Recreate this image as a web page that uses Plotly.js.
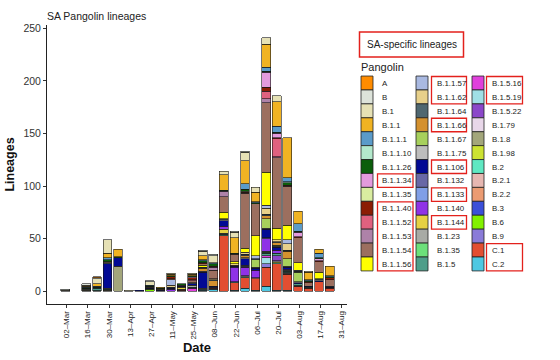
<!DOCTYPE html>
<html>
<head>
<meta charset="utf-8">
<script src="https://cdn.plot.ly/plotly-3.0.1.min.js"></script>
<style>
  html, body { margin: 0; padding: 0; background: #ffffff; }
  #chart { width: 560px; height: 360px; }
</style>
</head>
<body>
<div id="chart"></div>
<script>
// ---------------- DATA ----------------
// Week (bar) dates
const weeks = ['2020-03-01','2020-03-15','2020-03-22','2020-03-29','2020-04-05','2020-04-12',
  '2020-04-19','2020-04-26','2020-05-03','2020-05-10','2020-05-17','2020-05-24','2020-05-31',
  '2020-06-07','2020-06-14','2020-06-21','2020-06-28','2020-07-05','2020-07-12','2020-07-19',
  '2020-07-26','2020-08-02','2020-08-09','2020-08-16','2020-08-23'];

// Pangolin lineages, legend order
const lineages = ['A','B','B.1','B.1.1','B.1.1.1','B.1.1.10','B.1.1.26','B.1.1.34','B.1.1.35',
  'B.1.1.40','B.1.1.52','B.1.1.53','B.1.1.54','B.1.1.56','B.1.1.57','B.1.1.62','B.1.1.64',
  'B.1.1.66','B.1.1.67','B.1.1.75','B.1.106','B.1.132','B.1.133','B.1.140','B.1.144','B.1.23',
  'B.1.35','B.1.5','B.1.5.16','B.1.5.19','B.1.5.22','B.1.79','B.1.8','B.1.98','B.2','B.2.1',
  'B.2.2','B.3','B.6','B.9','C.1','C.2'];

const colors = ['#FF8C00','#DDE3DA','#E6E1B5','#F0B323','#5B9BC9','#B3E9CC','#0B5E0B','#E39BDD',
  '#D9EDA0','#8B1D04','#DF617F','#AE82A8','#9C6F5F','#FFFF00','#A9B9E1','#E7D08A','#4F6770',
  '#D4912F','#A7D05C','#BDBDBD','#020A94','#6868A6','#809FE7','#8F32E6','#E6D143','#A8AAA5',
  '#6CE07A','#4F9E8A','#E040DC','#A0DFE6','#8B47C9','#E8D7E9','#A3A67B','#CCE233','#5FE8C2',
  '#E6B7B1','#EB9B72','#3B4FD9','#82F000','#8A7BD8','#E24E31','#4FC8E2'];

// Weekly counts per lineage (one row per lineage, same order as `lineages`)
const counts = [
  [0,0,1,0,0,0,0,0,0,0,0,0,0,0,0,0,0,0,0,0,0,0,0,0,0],        // A
  [1,1,1,0,0,0,0,1,0,0,0,0,1,1,0,1,1,0,0,0,0,0,0,0,0],        // B
  [1,1,5,13,0,1,0,3,0,1,0,1,4,7,3,5,8,5,6,6,0,0,1,0,0],       // B.1
  [0,1,2,4,7,0,0,0,1,1,0,1,4,0,15,15,22,9,22,23,38,12,7,4,9], // B.1.1
  [0,1,1,2,0,0,0,1,0,0,0,0,1,1,0,0,5,1,4,6,4,7,1,4,1],        // B.1.1.1
  [0,0,0,0,0,0,0,0,0,0,0,0,0,0,0,0,0,0,0,0,1,0,0,0,0],        // B.1.1.10
  [0,1,1,2,1,0,0,1,1,1,1,1,2,2,1,1,2,1,1,1,2,1,1,1,1],        // B.1.1.26
  [0,0,0,0,0,0,0,0,0,0,0,1,0,0,0,0,0,0,14,4,0,4,0,2,0],       // B.1.1.34
  [0,0,0,0,0,0,0,0,0,0,0,0,0,0,0,0,1,0,0,0,0,0,0,0,0],        // B.1.1.35
  [0,0,0,0,0,0,0,0,0,2,0,2,1,1,0,0,1,0,4,1,1,1,1,1,2],        // B.1.1.40
  [0,0,0,0,0,0,0,0,0,0,0,1,0,0,0,0,0,0,7,17,0,0,0,0,0],       // B.1.1.52
  [0,0,0,0,0,0,0,0,0,0,0,0,0,3,5,0,0,0,4,1,0,0,0,0,0],        // B.1.1.53
  [0,0,0,1,0,0,0,1,0,1,1,2,1,8,15,7,52,30,66,67,37,24,3,10,6],// B.1.1.54
  [0,0,0,0,0,0,0,0,0,0,0,0,2,0,6,2,4,19,31,11,14,7,0,6,0],    // B.1.1.56
  [0,0,0,0,0,0,0,0,0,5,0,0,0,0,0,0,0,3,3,0,4,1,0,0,0],        // B.1.1.57
  [0,0,0,0,0,0,0,0,0,2,0,0,0,1,0,1,2,0,6,2,6,0,0,0,0],        // B.1.1.62
  [0,0,0,1,0,0,0,0,0,1,0,1,1,1,1,0,1,1,1,1,1,1,0,1,1],        // B.1.1.64
  [0,0,0,0,0,0,0,0,1,0,0,0,3,5,0,1,2,0,3,2,7,0,0,0,0],        // B.1.1.66
  [0,0,0,0,0,0,0,0,0,0,0,0,0,0,0,0,0,7,9,1,7,9,0,0,0],        // B.1.1.67
  [0,0,0,0,0,0,0,0,0,0,0,0,1,0,1,0,1,1,1,1,1,1,0,1,0],        // B.1.1.75
  [0,0,0,23,8,0,1,1,1,1,1,1,15,1,5,1,6,2,8,3,2,1,1,1,1],      // B.1.106
  [0,0,0,0,0,0,0,0,0,0,0,0,0,0,0,0,1,0,1,0,0,0,0,0,0],        // B.1.132
  [0,0,0,0,0,0,0,0,0,0,0,0,0,0,0,0,1,0,0,0,0,0,0,0,0],        // B.1.133
  [0,0,0,0,0,0,0,0,0,2,0,0,0,0,3,14,8,7,12,3,1,0,0,0,0],      // B.1.140
  [0,0,0,0,0,0,0,0,0,0,2,0,0,0,4,0,0,0,0,0,0,0,0,0,0],        // B.1.144
  [0,1,0,1,0,0,0,0,0,0,1,2,1,0,1,0,1,0,1,0,1,0,0,0,0],        // B.1.23
  [0,0,0,0,0,0,0,0,0,0,0,0,0,0,0,0,0,0,1,0,0,0,0,0,0],        // B.1.35
  [0,0,2,1,0,0,0,0,0,0,0,1,0,0,1,1,1,0,2,2,1,1,1,0,0],        // B.1.5
  [0,0,0,0,0,0,0,0,0,0,0,3,0,0,0,0,0,0,2,0,0,0,0,0,0],        // B.1.5.16
  [0,0,0,0,0,0,0,0,0,0,0,0,1,0,0,0,0,0,6,0,0,0,0,0,0],        // B.1.5.19
  [0,0,0,0,0,0,0,0,0,0,0,0,0,0,0,0,0,0,0,5,0,0,0,0,0],        // B.1.5.22
  [0,0,0,0,0,0,0,0,0,0,0,0,0,0,0,0,0,0,0,1,0,0,0,0,0],        // B.1.79
  [0,1,0,1,24,0,0,0,0,0,0,0,0,0,0,0,0,0,0,0,0,0,0,0,0],       // B.1.8
  [0,0,0,0,0,0,0,0,0,0,0,0,0,0,0,0,0,0,0,1,0,0,0,0,0],        // B.1.98
  [0,0,1,0,0,0,0,0,0,0,0,0,0,0,0,0,0,0,0,1,1,1,0,0,0],        // B.2
  [0,0,0,0,0,0,0,0,0,0,0,0,0,0,0,0,0,0,0,0,1,0,0,0,0],        // B.2.1
  [0,0,0,0,0,0,0,0,0,0,0,0,0,0,0,0,0,1,0,0,0,0,0,0,0],        // B.2.2
  [0,0,0,0,0,0,0,0,0,0,0,0,0,1,0,0,0,0,0,0,0,0,0,0,0],        // B.3
  [0,0,0,0,0,0,0,2,0,0,0,0,0,0,0,0,0,0,0,0,0,0,0,0,0],        // B.6
  [0,0,0,0,0,0,0,0,0,0,0,0,0,0,0,0,0,0,3,0,0,0,0,0,0],        // B.9
  [0,0,0,0,0,0,0,0,0,0,1,0,0,1,53,7,10,11,18,25,15,5,3,9,3],  // C.1
  [0,0,0,0,0,0,0,0,0,0,0,0,1,2,0,1,3,1,5,1,1,0,0,0,0]         // C.2
];

// SA-specific lineages (boxed in the legend), as groups of consecutive entries
const saGroups = [['B.1.1.34'], ['B.1.1.40','B.1.1.56'], ['B.1.1.57','B.1.1.62'], ['B.1.1.66'],
  ['B.1.106'], ['B.1.133'], ['B.1.144'], ['B.1.5.16','B.1.5.19'], ['C.1','C.2']];

// ---------------- LAYOUT GEOMETRY (pixels) ----------------
const PL = 47, PR = 347, PT = 25, PB = 304;
const px = x => (x - PL) / (PR - PL);
const py = y => (PB - y) / (PB - PT);
const FONT = 'Liberation Sans, Arial, Helvetica, sans-serif';

// ---------------- TRACES ----------------
// ggplot stacks the first factor level on top: add traces in reverse legend order
const traces = [];
for (let i = lineages.length - 1; i >= 0; i--) {
  traces.push({
    type: 'bar',
    name: lineages[i],
    x: weeks,
    y: counts[i].map(v => v === 0 ? null : v),
    marker: { color: colors[i], line: { color: '#151515', width: 0.6 } },
    showlegend: false,
    hovertemplate: lineages[i] + ': %{y}<extra></extra>'
  });
}

// ---------------- MANUAL 3-COLUMN LEGEND ----------------
const perCol = 14;
const swX = [[361, 373], [416, 428], [472, 484]];
const labX = [379.5, 435, 490];
const boxX = [[377.5, 413], [431.5, 466.5], [486.5, 522.5]];
const rowPitch = 13.92, row0 = 83;
const shapes = [], annotations = [];

lineages.forEach((name, i) => {
  const c = Math.floor(i / perCol), r = i % perCol;
  const yc = row0 + r * rowPitch;
  shapes.push({ type: 'rect', xref: 'paper', yref: 'paper',
    x0: px(swX[c][0]), x1: px(swX[c][1]), y0: py(yc + rowPitch / 2), y1: py(yc - rowPitch / 2),
    fillcolor: colors[i], line: { color: '#222', width: 0.8 } });
  annotations.push({ xref: 'paper', yref: 'paper', x: px(labX[c]), y: py(yc + 0.5),
    text: name, showarrow: false, xanchor: 'left', yanchor: 'middle',
    font: { family: FONT, size: 7.9, color: '#222' } });
});

saGroups.forEach(g => {
  const i0 = lineages.indexOf(g[0]), i1 = lineages.indexOf(g[g.length - 1]);
  const c = Math.floor(i0 / perCol);
  const yTop = row0 + (i0 % perCol) * rowPitch - 6.5;
  const yBot = row0 + (i1 % perCol) * rowPitch + 7;
  shapes.push({ type: 'rect', xref: 'paper', yref: 'paper',
    x0: px(boxX[c][0]), x1: px(boxX[c][1]), y0: py(yBot), y1: py(yTop),
    line: { color: '#E3211C', width: 1.3 }, fillcolor: 'rgba(0,0,0,0)' });
});

// "SA-specific lineages" key box and legend title
shapes.push({ type: 'rect', xref: 'paper', yref: 'paper',
  x0: px(359.5), x1: px(463.5), y0: py(57), y1: py(32),
  line: { color: '#E3211C', width: 1.5 }, fillcolor: 'rgba(0,0,0,0)' });
annotations.push({ xref: 'paper', yref: 'paper', x: px(411.5), y: py(44.5),
  text: 'SA-specific lineages', showarrow: false, xanchor: 'center', yanchor: 'middle',
  font: { family: FONT, size: 10, color: '#222' } });
annotations.push({ xref: 'paper', yref: 'paper', x: px(359), y: py(66.5),
  text: 'Pangolin', showarrow: false, xanchor: 'left', yanchor: 'middle',
  font: { family: FONT, size: 11, color: '#222' } });

// ---------------- LAYOUT ----------------
const layout = {
  width: 560, height: 360,
  margin: { l: PL, r: 560 - PR, t: PT, b: 360 - PB, pad: 0 },
  paper_bgcolor: '#ffffff', plot_bgcolor: '#ffffff',
  font: { family: FONT, color: '#222' },
  barmode: 'stack', bargap: 0.17,
  title: { text: 'SA Pangolin lineages', x: 0, xref: 'paper', xanchor: 'left',
    y: 1 - 16.5 / 360, yref: 'container', yanchor: 'middle',
    font: { family: FONT, size: 10.5, color: '#222' } },
  xaxis: {
    type: 'date',
    range: ['2020-02-17 23:00', '2020-09-03 12:00'],
    tick0: '2020-03-02', dtick: 14 * 86400000,
    tickformat: '%d\u2013%b', tickangle: -90,
    tickfont: { family: FONT, size: 8, color: '#222' },
    ticks: 'outside', ticklen: 3, tickwidth: 0.8, tickcolor: '#333',
    showline: true, linecolor: '#222', linewidth: 0.9,
    showgrid: false, zeroline: false,
    title: { text: '<b>Date</b>', standoff: 4, font: { family: FONT, size: 13, color: '#111' } }
  },
  yaxis: {
    range: [-12.05, 253.05],
    tickvals: [0, 50, 100, 150, 200, 250],
    tickfont: { family: FONT, size: 10.5, color: '#333' },
    ticks: 'outside', ticklen: 3, tickwidth: 0.8, tickcolor: '#333',
    showline: true, linecolor: '#222', linewidth: 0.9,
    showgrid: false, zeroline: false,
    title: { text: '<b>Lineages</b>', standoff: 6, font: { family: FONT, size: 12.5, color: '#111' } }
  },
  shapes: shapes,
  annotations: annotations
};

Plotly.newPlot('chart', traces, layout, { displayModeBar: false, responsive: false });
</script>
</body>
</html>
